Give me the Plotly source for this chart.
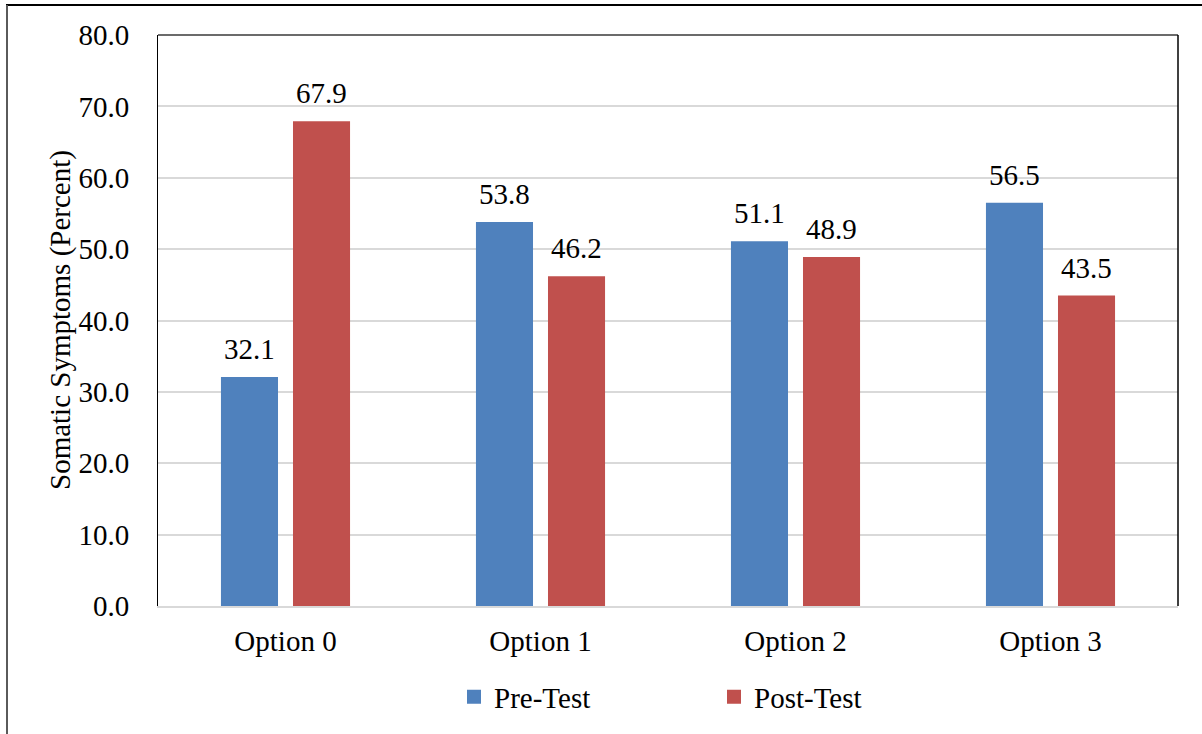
import plotly.graph_objects as go

# Somatic symptoms before and after the intervention, by option
categories = ["Option 0", "Option 1", "Option 2", "Option 3"]
pre_test = [32.1, 53.8, 51.1, 56.5]
post_test = [67.9, 46.2, 48.9, 43.5]
y_ticks = [0, 10, 20, 30, 40, 50, 60, 70, 80]
y_tick_labels = [f"{v:.1f}" for v in y_ticks]

FONT = "Liberation Serif"
FS = 29
BLUE = "#4F81BD"
RED = "#C0504D"

# plot-area geometry in pixels
W, H = 1202, 734
L, R, T, B = 158, 1178, 35, 606
PW, PH = R - L, B - T


def px_x(px):
    return (px - L) / PW


def px_y(py):
    return (B - py) / PH


fig = go.Figure()
for name, values, color in (("Pre-Test", pre_test, BLUE),
                            ("Post-Test", post_test, RED)):
    fig.add_trace(go.Bar(name=name, x=categories, y=values, showlegend=False,
                         legendgroup=name,
                         marker=dict(color=color, line=dict(width=0))))
    # square legend key
    fig.add_trace(go.Scatter(name=name, x=[None], y=[None], mode="markers",
                             legendgroup=name,
                             marker=dict(symbol="square", size=14, color=color,
                                         line=dict(width=0))))

# value labels above each bar
slot_shift = 36
for series, shift in ((pre_test, -slot_shift), (post_test, slot_shift)):
    for cat, val in zip(categories, series):
        fig.add_annotation(x=cat, y=val, text=f"{val:.1f}", showarrow=False,
                           xshift=shift, yshift=10, yanchor="bottom",
                           font=dict(family=FONT, size=FS, color="black"))

# y-axis title
fig.add_annotation(xref="paper", yref="paper", x=px_x(60), y=px_y(320),
                   text="Somatic Symptoms (Percent)", textangle=-90,
                   showarrow=False, xanchor="center", yanchor="middle",
                   font=dict(family=FONT, size=FS, color="black"))

shapes = [
    # top edge of plot area
    dict(type="line", xref="paper", yref="paper", x0=0, x1=1, y0=1, y1=1,
         line=dict(color="#6b6b6b", width=2)),
    # right edge of plot area
    dict(type="line", xref="paper", yref="paper", x0=1, x1=1, y0=0, y1=1,
         line=dict(color="black", width=1.5)),
    # outer frame
    dict(type="line", xref="paper", yref="paper", x0=px_x(6), x1=px_x(1210),
         y0=px_y(5), y1=px_y(5), line=dict(color="black", width=2)),
    dict(type="line", xref="paper", yref="paper", x0=px_x(7), x1=px_x(7),
         y0=px_y(5), y1=px_y(745), line=dict(color="#5a5a5a", width=2)),
]

fig.update_layout(
    width=W, height=H,
    margin=dict(l=L, r=W - R, t=T, b=H - B, autoexpand=False),
    paper_bgcolor="white", plot_bgcolor="white",
    barmode="group", bargap=0.435, bargroupgap=0.208,
    font=dict(family=FONT, size=FS, color="black"),
    shapes=shapes,
    showlegend=True,
    legend=dict(orientation="h", x=px_x(454), xanchor="left",
                y=px_y(697), yanchor="middle",
                entrywidth=215, entrywidthmode="pixels",
                itemwidth=30, font=dict(family=FONT, size=FS, color="black"),
                bgcolor="rgba(0,0,0,0)"),
)

fig.update_xaxes(showline=True, linecolor="#d9d9d9", linewidth=2,
                 showgrid=False, ticks="", ticklabelstandoff=8,
                 tickfont=dict(family=FONT, size=FS, color="black"),
                 fixedrange=True)
fig.update_yaxes(range=[0, 80], tickvals=y_ticks, ticktext=y_tick_labels,
                 showline=True, linecolor="black", linewidth=1,
                 showgrid=True, gridcolor="#d9d9d9", gridwidth=1.5,
                 zeroline=False, ticks="", ticklabelstandoff=22,
                 tickfont=dict(family=FONT, size=FS, color="black"),
                 fixedrange=True)

fig.write_html("out.html")
